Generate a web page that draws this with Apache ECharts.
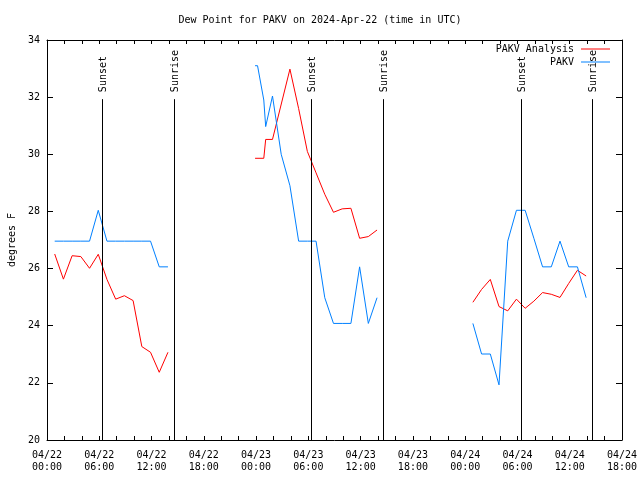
<!DOCTYPE html>
<html>
<head>
<meta charset="utf-8">
<script src="https://cdn.jsdelivr.net/npm/echarts@6/dist/echarts.min.js"></script>
<style>html,body{margin:0;padding:0;background:#fff}#c{width:640px;height:480px}</style>
</head>
<body>
<div id="c"></div>
<script>
// ---- data (times are "DD HH:MM" in UTC, April 2024) ----
var xTickLabels = ['04/22\n00:00','04/22\n06:00','04/22\n12:00','04/22\n18:00',
                   '04/23\n00:00','04/23\n06:00','04/23\n12:00','04/23\n18:00',
                   '04/24\n00:00','04/24\n06:00','04/24\n12:00','04/24\n18:00'];
var yTicks = [20, 22, 24, 26, 28, 30, 32, 34];

var anaTimes1 = ['22 00:53','22 01:53','22 02:53','22 03:53','22 04:53','22 05:53','22 06:53',
                 '22 07:53','22 08:53','22 09:53','22 10:53','22 11:53','22 12:53','22 13:53'];
var anaVals1  = [26.51,25.63,26.45,26.42,26.01,26.50,25.62,24.93,25.05,24.88,23.27,23.07,22.37,23.07];
var obsTimes1 = anaTimes1;
var obsVals1  = [26.96,26.96,26.96,26.96,26.96,28.04,26.96,26.96,26.96,26.96,26.96,26.96,26.06,26.06];

var anaTimes2 = ['22 23:53','23 00:53','23 01:06','23 01:53','23 03:53','23 04:53','23 05:53',
                 '23 06:53','23 07:53','23 08:53','23 09:53','23 10:53','23 11:53','23 12:53','23 13:53'];
var anaVals2  = [29.86,29.86,30.52,30.52,32.98,31.60,30.10,29.35,28.60,27.97,28.09,28.11,27.06,27.12,27.35];
var obsTimes2 = ['22 23:53','23 00:10','23 00:53','23 01:06','23 01:53','23 02:53','23 03:53','23 04:53',
                 '23 05:53','23 06:53','23 07:53','23 08:53','23 09:53','23 10:53','23 11:53','23 12:53','23 13:53'];
var obsVals2  = [33.10,33.10,31.90,30.97,32.04,30.00,28.90,26.96,26.96,26.96,24.98,24.08,24.08,24.08,26.06,24.08,24.98];

var anaTimes3 = ['24 00:53','24 01:53','24 02:53','24 03:53','24 04:53','24 05:53','24 06:53',
                 '24 07:53','24 08:53','24 09:53','24 10:53','24 11:53','24 12:53','24 13:53'];
var anaVals3  = [24.82,25.27,25.62,24.67,24.52,24.93,24.61,24.86,25.16,25.10,24.99,25.48,25.94,25.74];
var obsTimes3 = anaTimes3;
var obsVals3  = [24.08,23.01,23.01,21.93,26.96,28.04,28.04,27.06,26.06,26.06,26.96,26.06,26.06,24.98];

var sunTimes  = ['22 06:17','22 14:38','23 06:20','23 14:35','24 06:23','24 14:32'];
var sunLabels = ['Sunset','Sunrise','Sunset','Sunrise','Sunset','Sunrise'];

// ---- helpers ----
function toHours(s) {
  var d = parseInt(s.slice(0, 2), 10), h = parseInt(s.slice(3, 5), 10), m = parseInt(s.slice(6, 8), 10);
  return (d - 22) * 24 + h + m / 60;
}
function pairs(times, vals) { return times.map(function (t, i) { return [toHours(t), vals[i]]; }); }

var MONO = '"DejaVu Sans Mono", "Liberation Mono", monospace';
var RED = '#ff0000', BLUE = '#0080ff';

function lineSeries(name, color, data) {
  return { name: name, type: 'line', data: data, showSymbol: false, symbol: 'none',
           lineStyle: { color: color, width: 1 }, itemStyle: { color: color },
           emphasis: { disabled: true }, animation: false, z: 2 };
}

var chart = echarts.init(document.getElementById('c'), null, { renderer: 'canvas' });
chart.setOption({
  animation: false,
  backgroundColor: '#ffffff',
  title: { text: 'Dew Point for PAKV on 2024-Apr-22 (time in UTC)', left: 'center', top: 10,
           textStyle: { fontFamily: MONO, fontSize: 10, fontWeight: 'normal', color: '#000' } },
  legend: { data: [{ name: 'PAKV Analysis', icon: 'rect' }, { name: 'PAKV', icon: 'rect' }],
            orient: 'vertical', align: 'right', right: 30, top: 44,
            padding: 0, itemGap: 3, itemWidth: 29, itemHeight: 1,
            itemStyle: { borderWidth: 0 },
            textStyle: { fontFamily: MONO, fontSize: 10, lineHeight: 10, color: '#000', padding: [0, 2, 0, 0] } },
  grid: { left: 47, right: 18, top: 40, bottom: 40, containLabel: false, outerBoundsMode: 'none' },
  xAxis: [
    { type: 'value', min: 0, max: 66, interval: 2, position: 'bottom',
      axisLine: { show: true, onZero: false, lineStyle: { color: '#000', width: 1 } },
      axisTick: { show: true, inside: true, length: 4, lineStyle: { color: '#000' } },
      splitLine: { show: false },
      axisLabel: { margin: 9, lineHeight: 12, fontFamily: MONO, fontSize: 10, color: '#000', showMaxLabel: true, showMinLabel: true,
                   formatter: function (v) { return (v % 6 === 0) ? xTickLabels[v / 6] : ''; } } },
    { type: 'value', min: 0, max: 66, interval: 2, position: 'top',
      axisLine: { show: true, onZero: false, lineStyle: { color: '#000', width: 1 } },
      axisTick: { show: true, inside: true, length: 4, lineStyle: { color: '#000' } },
      splitLine: { show: false }, axisLabel: { show: false } }
  ],
  yAxis: [
    { type: 'value', min: yTicks[0], max: yTicks[yTicks.length - 1], interval: 2, position: 'left',
      name: 'degrees F', nameLocation: 'middle', nameRotate: 90, nameGap: 30,
      nameTextStyle: { fontFamily: MONO, fontSize: 10, color: '#000' },
      axisLine: { show: true, onZero: false, lineStyle: { color: '#000', width: 1 } },
      axisTick: { show: true, inside: true, length: 6, lineStyle: { color: '#000' } },
      splitLine: { show: false },
      axisLabel: { margin: 7, fontFamily: MONO, fontSize: 10, color: '#000' } },
    { type: 'value', min: yTicks[0], max: yTicks[yTicks.length - 1], interval: 2, position: 'right',
      axisLine: { show: true, onZero: false, lineStyle: { color: '#000', width: 1 } },
      axisTick: { show: true, inside: true, length: 6, lineStyle: { color: '#000' } },
      splitLine: { show: false }, axisLabel: { show: false } }
  ],
  series: [
    lineSeries('PAKV Analysis', RED, pairs(anaTimes1, anaVals1)),
    lineSeries('PAKV Analysis', RED, pairs(anaTimes2, anaVals2)),
    lineSeries('PAKV Analysis', RED, pairs(anaTimes3, anaVals3)),
    lineSeries('PAKV', BLUE, pairs(obsTimes1, obsVals1)),
    lineSeries('PAKV', BLUE, pairs(obsTimes2, obsVals2)),
    lineSeries('PAKV', BLUE, pairs(obsTimes3, obsVals3)),
    { type: 'custom', name: 'sun', z: 3, silent: true, animation: false,
      data: sunTimes.map(function (t) { return [toHours(t)]; }),
      encode: { x: 0 },
      renderItem: function (params, api) {
        var x = api.value(0);
        var p0 = api.coord([x, 20]);
        var p1 = api.coord([x, 31.93]);
        var px = Math.round(p0[0]) + 0.5;
        return { type: 'group', children: [
          { type: 'line', shape: { x1: px, y1: p0[1], x2: px, y2: p1[1] },
            style: { stroke: '#000', lineWidth: 1 } },
          { type: 'text', x: px + 1, y: p1[1] - 7, rotation: Math.PI / 2,
            style: { text: sunLabels[params.dataIndex], fill: '#000', font: '10px ' + MONO,
                     align: 'left', verticalAlign: 'middle' } }
        ] };
      } }
  ]
});
</script>
</body>
</html>
